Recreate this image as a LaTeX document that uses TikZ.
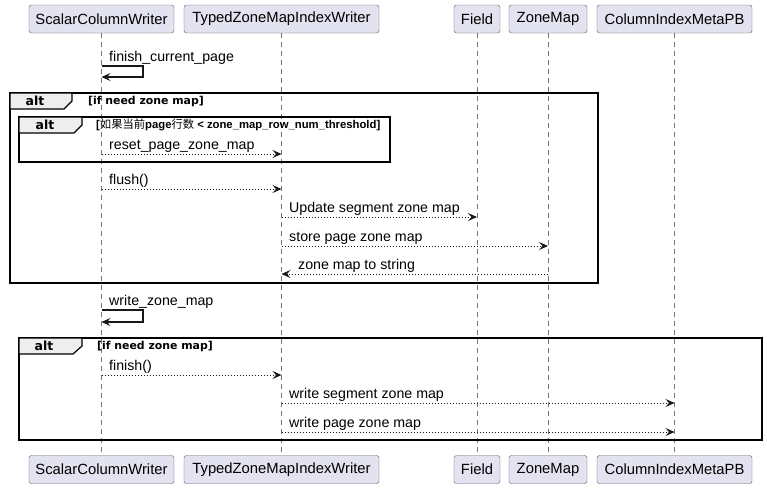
\documentclass[tikz,border=0pt]{standalone}
\usepackage{fontspec}
\setmainfont{Liberation Sans}
\newfontfamily\cjk{Noto Sans CJK SC}
\newfontfamily\wide{DejaVu Sans}
\usetikzlibrary{arrows.meta}
\usepackage{xcolor}
\definecolor{actor}{HTML}{E2E2F0}
\definecolor{rim}{HTML}{181818}
\definecolor{tab}{HTML}{EEEEEE}

\begin{document}
\begin{tikzpicture}[x=1pt,y=-1pt,
	part/.style={draw=rim!70,fill=actor,rounded corners=2.5pt,minimum height=28pt,inner sep=0pt,font=\fontsize{14.8}{16}\selectfont},
	life/.style={draw=rim!60,dash pattern=on 5pt off 4pt,line width=0.6pt},
	msg/.style={draw=rim,dash pattern=on 1.5pt off 1.5pt,line width=0.9pt,-{Stealth[length=9pt,width=8pt,inset=3.5pt]}},
	self/.style={draw=rim,line width=1.1pt,-{Stealth[length=9pt,width=8pt,inset=3.5pt]}},
	lbl/.style={anchor=base west,inner sep=0pt,font=\fontsize{14.2}{16}\selectfont},
	frame/.style={draw=black,line width=1.6pt},
	tabbox/.style={draw=black,line width=1.2pt,fill=tab},
	altlbl/.style={inner sep=0pt,font=\wide\fontsize{12.5}{14}\bfseries\selectfont},
	guard/.style={anchor=west,inner sep=0pt,font=\wide\fontsize{10.9}{13}\bfseries\selectfont},
	guardb/.style={anchor=west,inner sep=0pt,font=\fontsize{11.3}{13}\bfseries\selectfont},
	]
	\useasboundingbox (0,0) rectangle (767,491);
	%participants top
	\node[part,minimum width=145pt] (scwT) at (101.5,19) {ScalarColumnWriter};
	\node[part,minimum width=195pt] (tzwT) at (281.5,19) {TypedZoneMapIndexWriter};
	\node[part,minimum width=46pt] (fldT) at (477,19) {Field};
	\node[part,minimum width=78pt] (zmT) at (548,19) {ZoneMap};
	\node[part,minimum width=155pt] (cimT) at (674.5,19) {ColumnIndexMetaPB};
	%participants bottom
	\node[part,minimum width=145pt] (scwB) at (101.5,469.5) {ScalarColumnWriter};
	\node[part,minimum width=195pt] (tzwB) at (281.5,469.5) {TypedZoneMapIndexWriter};
	\node[part,minimum width=46pt] (fldB) at (477,469.5) {Field};
	\node[part,minimum width=78pt] (zmB) at (548,469.5) {ZoneMap};
	\node[part,minimum width=155pt] (cimB) at (674.5,469.5) {ColumnIndexMetaPB};
	%lifelines
	\draw[life] (scwT) -- (scwB);
	\draw[life] (tzwT) -- (tzwB);
	\draw[life] (fldT) -- (fldB);
	\draw[life] (zmT) -- (zmB);
	\draw[life] (cimT) -- (cimB);
	%finish_current_page
	\draw[self] (scwT |- 0,66) -| (143,77) -- (scwT |- 0,77);
	\node[lbl] (m1) at (109,61) {finish\_current\_page};
	%alt if need zone map
	\draw[frame] (10,93) rectangle (598,283);
	\draw[tabbox] (10,93) -- (10,109) -- (64,109) -- (72,101) -- (72,93) -- cycle;
	\node[altlbl] (alt1) at (35,101) {alt};
	\node[guard] (g1) at (88,101) {[if need zone map]};
	%inner alt
	\draw[frame] (19,117) rectangle (390,162);
	\draw[tabbox] (19,117) -- (19,133) -- (74,133) -- (82,125) -- (82,117) -- cycle;
	\node[altlbl] (alt2) at (45,125) {alt};
	\node[guardb] (g2) at (96,125) {[{\cjk\mdseries 如果当前}page{\cjk\mdseries 行数} < zone\_map\_row\_num\_threshold]};
	%messages
	\draw[msg] (scwT |- 0,154) -- (tzwT |- 0,154);
	\node[lbl] (m2) at (109,149.5) {reset\_page\_zone\_map};
	\draw[msg] (scwT |- 0,189) -- (tzwT |- 0,189);
	\node[lbl] (m3) at (109,184.5) {flush()};
	\draw[msg] (tzwT |- 0,217) -- (fldT |- 0,217);
	\node[lbl] (m4) at (289,212.5) {Update segment zone map};
	\draw[msg] (tzwT |- 0,246) -- (zmT |- 0,246);
	\node[lbl] (m5) at (289,241.5) {store page zone map};
	\draw[msg] (zmT |- 0,274) -- (tzwT |- 0,274);
	\node[lbl] (m6) at (298,269.5) {zone map to string};
	%write_zone_map
	\draw[self] (scwT |- 0,310) -| (143,322) -- (scwT |- 0,322);
	\node[lbl] (m7) at (109,305) {write\_zone\_map};
	%alt if need zone map (finish)
	\draw[frame] (19,338) rectangle (762,440);
	\draw[tabbox] (19,338) -- (19,354) -- (73,354) -- (82,346) -- (82,338) -- cycle;
	\node[altlbl] (alt3) at (44,346) {alt};
	\node[guard] (g3) at (97,346) {[if need zone map]};
	\draw[msg] (scwT |- 0,375) -- (tzwT |- 0,375);
	\node[lbl] (m8) at (109,370) {finish()};
	\draw[msg] (tzwT |- 0,403) -- (cimT |- 0,403);
	\node[lbl] (m9) at (289,398.5) {write segment zone map};
	\draw[msg] (tzwT |- 0,432) -- (cimT |- 0,432);
	\node[lbl] (m10) at (289,427) {write page zone map};
\end{tikzpicture}
\end{document}
